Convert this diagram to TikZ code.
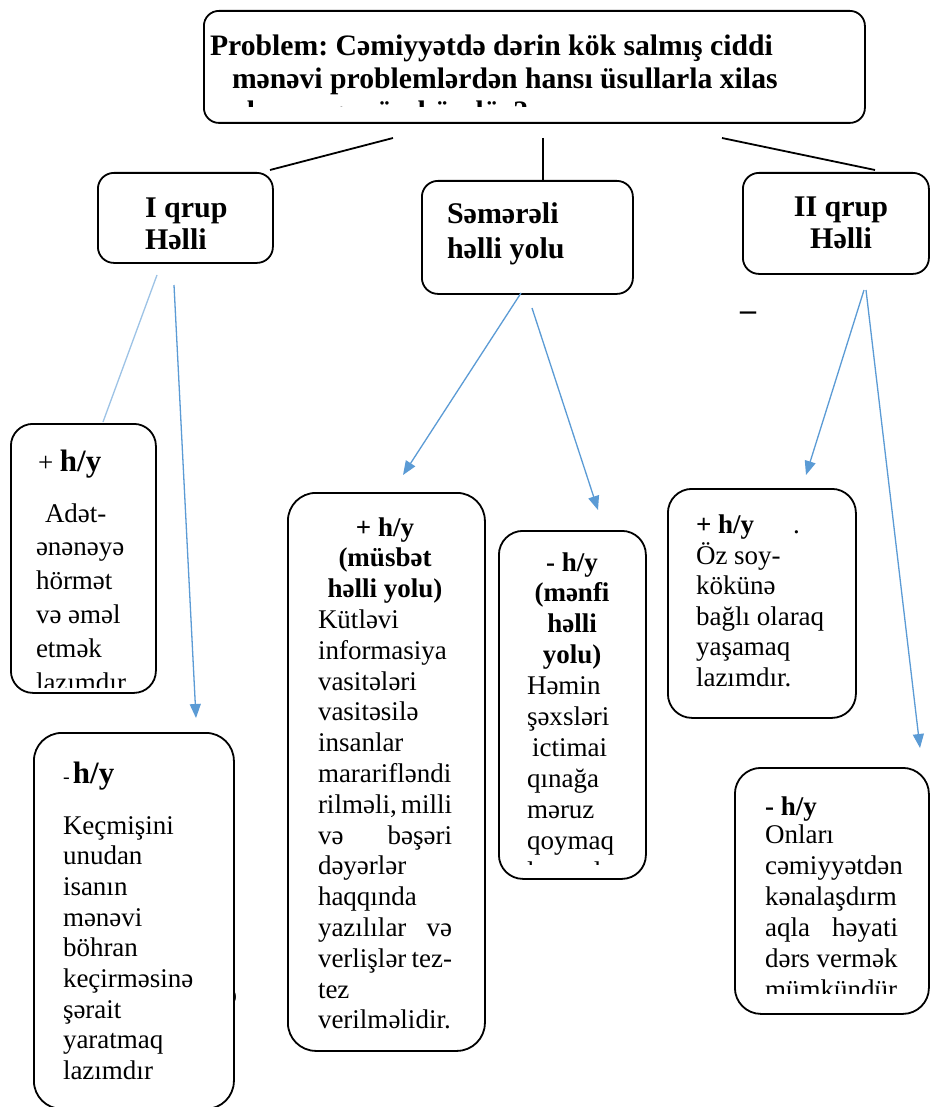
\documentclass[tikz,border=0pt]{standalone}
\usepackage{fontspec}
\setmainfont{Liberation Serif}
\usetikzlibrary{arrows.meta}
\definecolor{arrowblue}{HTML}{5B9BD5}
\definecolor{lightblue}{HTML}{9DC3E6}
\newcommand{\fs}[2]{\fontsize{#1}{#2}\selectfont}
\frenchspacing
\tikzset{
  box/.style={draw=black, line width=1.8pt, rounded corners=20pt, anchor=north west, inner sep=0pt},
  txt/.style={anchor=base west, inner sep=0pt, outer sep=0pt},
  ctxt/.style={anchor=base, inner sep=0pt, outer sep=0pt},
  conn/.style={draw=black, line width=1.8pt},
  barrow/.style={draw=arrowblue, line width=1.3pt, -{Triangle[length=14pt,width=11pt]}},
  bline/.style={draw=lightblue, line width=1.3pt},
}
\begin{document}
\begin{tikzpicture}[x=1pt,y=-1pt]
\useasboundingbox (0,0) rectangle (929,1107);
\fill[white] (0,0) rectangle (929,1107);

% ---------- boxes ----------
\node[box, rounded corners=15pt, minimum width=661pt, minimum height=112pt] (top) at (203,10) {};
\node[box, rounded corners=16pt, minimum width=175pt, minimum height=90pt] (g1) at (97,172) {};
\node[box, rounded corners=16pt, minimum width=211pt, minimum height=113pt] (sm) at (421,180) {};
\node[box, rounded corners=16pt, minimum width=186pt, minimum height=101pt] (g2) at (742,172) {};
\node[box, rounded corners=22pt, minimum width=145pt, minimum height=269pt] (p1) at (10,423) {};
\node[box, rounded corners=28pt, minimum width=200pt, minimum height=376pt] (m1) at (33,732) {};
\node[box, rounded corners=28pt, minimum width=197pt, minimum height=558pt] (p2) at (287,492) {};
\node[box, rounded corners=24pt, minimum width=147pt, minimum height=348pt] (m2) at (498,530) {};
\node[box, rounded corners=24pt, minimum width=188pt, minimum height=229pt] (p3) at (667,488) {};
\node[box, rounded corners=26pt, minimum width=194pt, minimum height=246pt] (m3) at (734,767) {};

% ---------- texts ----------
\begin{scope}
\clip (205,12) rectangle (862,107);
\node[txt] (ttop) at (210,56) {\parbox[t]{700pt}{\bfseries\fs{29.7}{33}Problem: Cəmiyyətdə dərin kök salmış ciddi\\\hspace*{22pt}mənəvi problemlərdən hansı üsullarla xilas\\\hspace*{22pt}olunmaq mümkündür?}};
\end{scope}

\node[txt] (tg1) at (145,218) {\parbox[t]{120pt}{\bfseries\fs{30}{32}I qrup\\Həlli}};
\node[txt] (tsm) at (447,224) {\parbox[t]{170pt}{\bfseries\fs{30}{35}Səmərəli\\həlli yolu}};
\node[ctxt] (tg2) at (841,217) {\parbox[t]{160pt}{\centering\bfseries\fs{30}{32}II qrup\\Həlli}};
\node[inner sep=0pt] (dash) at (748,316) {\bfseries\fs{32}{32}–};

% p1
\node[txt] (hp1) at (38,471) {\fs{27}{30}+ \bfseries\fs{31}{30}h/y};
\begin{scope}
\clip (12,490) rectangle (153,687);
\node[txt] (bp1) at (36,522) {\parbox[t]{115pt}{\fs{27}{33.8}\hspace*{9pt}Adət-\\ənənəyə\\hörmət\\və əməl\\etmək\\lazımdır}};
\end{scope}

% m1
\node[txt] (hm1) at (63,783) {\fs{20}{20}-\,\bfseries\fs{31}{30}h/y};
\node[txt] (bm1) at (63,834) {\parbox[t]{165pt}{\fs{27}{30.7}Keçmişini\\unudan\\isanın\\mənəvi\\böhran\\keçirməsinə\\şərait\\yaratmaq\\lazımdır}};
\begin{scope}
\clip (234.5,985) rectangle (250,1010);
\node[txt] (stray) at (225,1003) {\fs{27}{30}ə};
\end{scope}

% p2
\node[ctxt] (hp2) at (385,536) {\parbox[t]{180pt}{\centering\bfseries\fs{27}{30.8}+ h/y\\(müsbət\\həlli yolu)}};
\node[txt] (bp2) at (318,628.4) {\parbox[t]{134pt}{\fs{27}{30.8}Kütləvi\\informasiya\\vasitələri\\vasitəsilə\\insanlar\\mararifləndi\\rilməli,\hfill milli\\və\hfill bəşəri\\dəyərlər\\haqqında\\yazılılar\hfill və\\verlişlər\hfill tez-\\tez\\verilməlidir.}};

% m2
\begin{scope}
\clip (500,532) rectangle (643,864);
\node[ctxt] (hm2) at (572,571) {\parbox[t]{140pt}{\centering\bfseries\fs{27}{30.9}- h/y\\(mənfi\\həlli\\yolu)}};
\node[txt] (bm2) at (527,694.6) {\parbox[t]{115pt}{\fs{27}{30.9}Həmin\\şəxsləri\\\hspace*{5pt}ictimai\\qınağa\\məruz\\qoymaq\\lazımdır}};
\end{scope}

% p3
\node[txt] (hp3) at (696,533) {\bfseries\fs{27}{29}+ h/y};
\node[txt] (dot3) at (793,533) {\fs{27}{29}.};
\node[txt] (bp3) at (696,564) {\parbox[t]{150pt}{\fs{27}{30.5}Öz soy-\\kökünə\\bağlı olaraq\\yaşamaq\\lazımdır.}};

% m3
\node[txt] (hm3) at (765,815) {\bfseries\fs{27}{28}- h/y};
\begin{scope}
\clip (736,820) rectangle (926,993);
\node[txt] (bm3) at (765,843) {\parbox[t]{133pt}{\fs{27}{31}Onları\\cəmiyyətdən\\kənalaşdırm\\aqla\hfill həyati\\dərs vermək\\mümkündür}};
\end{scope}

% ---------- connectors ----------
\coordinate (c1a) at (393,138); \coordinate (c1b) at (270,170);
\coordinate (c2a) at (543,138); \coordinate (c2b) at (543,180);
\coordinate (c3a) at (722,138); \coordinate (c3b) at (875,170);
\draw[conn] (c1a) -- (c1b);
\draw[conn] (c2a) -- (c2b);
\draw[conn] (c3a) -- (c3b);

\coordinate (a1s) at (157,275); \coordinate (a1e) at (103,422);
\coordinate (a2s) at (174,285); \coordinate (a2e) at (196,718);
\coordinate (a3s) at (521,293); \coordinate (a3e) at (403,475);
\coordinate (a4s) at (532,308); \coordinate (a4e) at (598,510);
\coordinate (a5s) at (864,290); \coordinate (a5e) at (806,475);
\coordinate (a6s) at (866,290); \coordinate (a6e) at (920,748);
\draw[bline] (a1s) -- (a1e);
\draw[barrow] (a2s) -- (a2e);
\draw[barrow] (a3s) -- (a3e);
\draw[barrow] (a4s) -- (a4e);
\draw[barrow] (a5s) -- (a5e);
\draw[barrow] (a6s) -- (a6e);
\end{tikzpicture}
\end{document}
